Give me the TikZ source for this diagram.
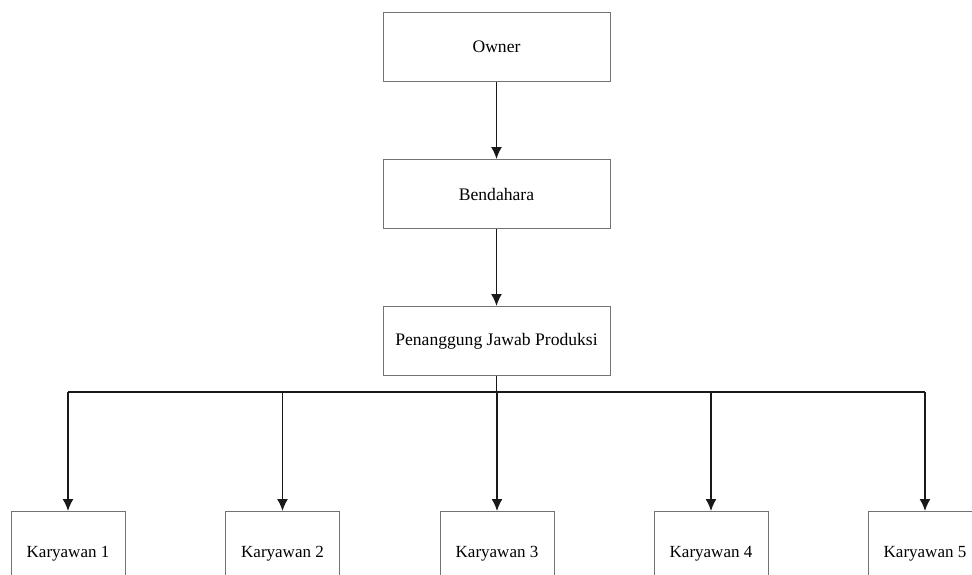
\documentclass[tikz,border=0pt]{standalone}
\usepackage{fontspec}
\setmainfont{Liberation Serif}
\usetikzlibrary{arrows.meta}
\begin{document}
\begin{tikzpicture}[x=1pt,y=-1pt,
  topbox/.style={draw=black!55, line width=1pt, minimum width=227pt, minimum height=69pt, inner sep=0pt, font=\fontsize{17.6}{20}\selectfont, anchor=north},
  lowbox/.style={draw=black!55, line width=1pt, minimum width=114pt, minimum height=84pt, inner sep=0pt, font=\fontsize{17}{20}\selectfont, anchor=north},
  conn/.style={draw=black!90, line width=1.5pt},
  arr/.style={conn, -{Latex[length=12pt,width=11pt]}}]
\useasboundingbox (0,0) rectangle (972,574);
\clip (0,0) rectangle (972,574);
\fill[white] (0,0) rectangle (972,574);
\node[topbox] (own) at (496.5,12) {Owner};
\node[topbox] (ben) at (496.5,159) {Bendahara};
\node[topbox] (pj) at (496.5,306) {Penanggung Jawab Produksi};
\node[lowbox] (k1) at (68,511) {Karyawan 1};
\node[lowbox] (k2) at (282.5,511) {Karyawan 2};
\node[lowbox] (k3) at (497,511) {Karyawan 3};
\node[lowbox] (k4) at (711,511) {Karyawan 4};
\node[lowbox] (k5) at (925,511) {Karyawan 5};
\coordinate (bus) at (496.5,392);
\draw[arr] (own) -- (ben);
\draw[arr] (ben) -- (pj);
\draw[conn] (pj.south) -- (bus);
\draw[conn] (k1.north |- bus) -- (k5.north |- bus);
\foreach \k in {k1,k2,k3,k4,k5}{
  \draw[arr] (\k.north |- bus) -- (\k.north);
}
\end{tikzpicture}
\end{document}
